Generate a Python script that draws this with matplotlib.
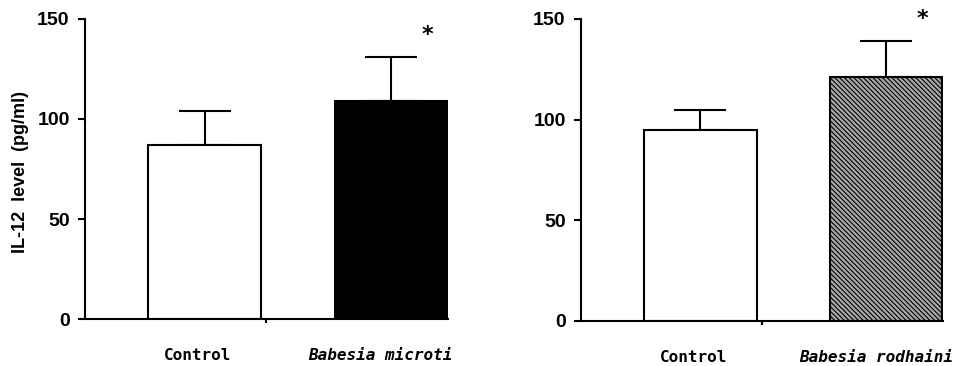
import matplotlib.pyplot as plt
from matplotlib.transforms import blended_transform_factory

# IL-12 levels (pg/ml), mean and upper SD
left_groups = ["Control", "Babesia microti"]
left_means = [87, 109]
left_errs = [17, 22]

right_groups = ["Control", "Babesia rodhaini"]
right_means = [95, 121]
right_errs = [10, 18]

yticks = [0, 50, 100, 150]

plt.rcParams['hatch.linewidth'] = 0.8
plt.rcParams['hatch.color'] = '#303030'

fig = plt.figure(figsize=(9.72, 3.66), dpi=100)
ax1 = fig.add_axes([0.0874, 0.1284, 0.3735, 0.8197])
ax2 = fig.add_axes([0.5977, 0.1230, 0.3724, 0.8251])

bar_x = [0.66, 1.685]
label_x = [0.62, 1.63]


def draw_panel(ax, groups, means, errs, styles):
    for i in range(len(groups)):
        fc, hatch = styles[i]
        ax.bar(bar_x[i], means[i], width=0.62, color=fc, hatch=hatch,
               edgecolor='black', linewidth=1.5, zorder=2)
        ax.errorbar(bar_x[i], means[i], yerr=[[0], [errs[i]]], fmt='none',
                    ecolor='black', elinewidth=1.5, capsize=19, capthick=1.5,
                    zorder=1)
        if i == 1:
            ax.text(bar_x[i] + 0.2, means[i] + errs[i] + 11, '*', ha='center',
                    va='center', fontsize=16, fontweight='bold')
    ax.set_xlim(0, 2)
    ax.set_ylim(0, 150)
    ax.set_yticks(yticks)
    ax.set_xticks([1])
    ax.set_xticklabels([''])
    ax.spines['top'].set_visible(False)
    ax.spines['right'].set_visible(False)
    ax.spines['left'].set_linewidth(1.5)
    ax.spines['bottom'].set_linewidth(1.5)
    ax.tick_params(axis='y', direction='out', length=5, width=1.5, pad=6)
    ax.tick_params(axis='x', direction='out', length=3, width=1.5)
    for lab in ax.get_yticklabels():
        lab.set_fontfamily('Liberation Sans')
        lab.set_fontweight('bold')
        lab.set_fontsize(14)
    trans = blended_transform_factory(ax.transData, ax.transAxes)
    for i, g in enumerate(groups):
        ax.text(label_x[i], -0.12, g, transform=trans, ha='center', va='center',
                fontsize=11.5, fontweight='bold', family='DejaVu Sans Mono',
                style='italic' if i == 1 else 'normal')


draw_panel(ax1, left_groups, left_means, left_errs,
           [('white', None), ('black', None)])
draw_panel(ax2, right_groups, right_means, right_errs,
           [('white', None), ('#a8a8a8', '\\\\\\\\\\\\\\')])

fig.text(21 / 972, 1 - 172 / 366, 'IL-12  level  (pg/ml)', rotation=90,
         ha='center', va='center', fontsize=13, fontweight='bold',
         family='Liberation Sans')

fig.savefig('out.png', dpi=100)
